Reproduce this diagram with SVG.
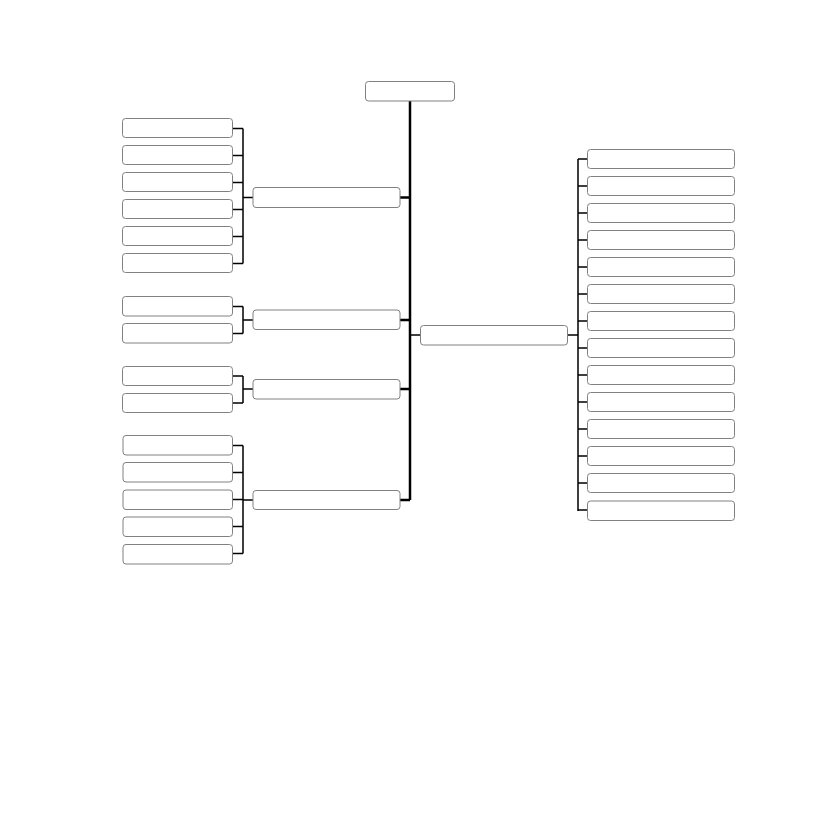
<svg xmlns="http://www.w3.org/2000/svg" width="822" height="822" viewBox="0 0 822 822">
<style>
.n{fill:#fff;stroke:#808080;stroke-width:1}
.c{fill:none;stroke:#000;stroke-width:1.5}
.m{fill:none;stroke:#000;stroke-width:2.5}
</style>
<rect width="822" height="822" fill="#fff"/>
<g id="connectors">
<path class="m" d="M410 101V500M400 197.5H410M400 320H410M400 389H410M400 500H410"/>
<path class="c" d="M410 335H420M567 335H578M578 159V511"/>
<path class="c" d="M578 159H587M578 186H587M578 213H587M578 240H587M578 267H587M578 294H587M578 321H587M578 348H587M578 375H587M578 402H587M578 429H587M578 456H587M578 483H587M578 510H587"/>
<path class="c" d="M232 128.5H243M232 155.5H243M232 182.5H243M232 209.5H243M232 236.5H243M232 263.5H243M243 128.5V263.5M243 197.5H253"/>
<path class="c" d="M232 306.5H243M232 333.5H243M243 306.5V333.5M243 320H253"/>
<path class="c" d="M232 376H243M232 403H243M243 376V403M243 389H253"/>
<path class="c" d="M232 445.5H243M232 472.5H243M232 499.5H243M232 526.5H243M232 553.5H243M243 445.5V553.5M243 500H253"/>
</g>
<g id="root"><rect class="n" x="365.5" y="81.5" width="89" height="19.5" rx="3"/></g>
<g id="g1"><rect class="n" x="253" y="187.5" width="147" height="20" rx="3"/></g>
<g id="g2"><rect class="n" x="253" y="310" width="147" height="19.5" rx="3"/></g>
<g id="g3"><rect class="n" x="253" y="379.5" width="147" height="19.5" rx="3"/></g>
<g id="g4"><rect class="n" x="253" y="490.5" width="147" height="19" rx="3"/></g>
<g id="r"><rect class="n" x="420.5" y="325.5" width="147" height="19.5" rx="3"/></g>
<g id="g1c1"><rect class="n" x="122.5" y="118.5" width="110" height="19" rx="3"/></g>
<g id="g1c2"><rect class="n" x="122.5" y="145.5" width="110" height="19" rx="3"/></g>
<g id="g1c3"><rect class="n" x="122.5" y="172.5" width="110" height="19" rx="3"/></g>
<g id="g1c4"><rect class="n" x="122.5" y="199.5" width="110" height="19" rx="3"/></g>
<g id="g1c5"><rect class="n" x="122.5" y="226.5" width="110" height="19" rx="3"/></g>
<g id="g1c6"><rect class="n" x="122.5" y="253.5" width="110" height="19" rx="3"/></g>
<g id="g2c1"><rect class="n" x="122.5" y="296.5" width="110" height="19.5" rx="3"/></g>
<g id="g2c2"><rect class="n" x="122.5" y="323.5" width="110" height="19.5" rx="3"/></g>
<g id="g3c1"><rect class="n" x="122.5" y="366.5" width="110" height="19" rx="3"/></g>
<g id="g3c2"><rect class="n" x="122.5" y="393.5" width="110" height="19" rx="3"/></g>
<g id="g4c1"><rect class="n" x="123" y="435.5" width="109.5" height="19.5" rx="3"/></g>
<g id="g4c2"><rect class="n" x="123" y="462.5" width="109.5" height="19.5" rx="3"/></g>
<g id="g4c3"><rect class="n" x="123" y="490" width="109.5" height="19.5" rx="3"/></g>
<g id="g4c4"><rect class="n" x="123" y="517" width="109.5" height="19.5" rx="3"/></g>
<g id="g4c5"><rect class="n" x="123" y="544.5" width="109.5" height="19.5" rx="3"/></g>
<g id="rc1"><rect class="n" x="587.5" y="149.5" width="147" height="19" rx="3"/></g>
<g id="rc2"><rect class="n" x="587.5" y="176.5" width="147" height="19" rx="3"/></g>
<g id="rc3"><rect class="n" x="587.5" y="203.5" width="147" height="19" rx="3"/></g>
<g id="rc4"><rect class="n" x="587.5" y="230.5" width="147" height="19" rx="3"/></g>
<g id="rc5"><rect class="n" x="587.5" y="257.5" width="147" height="19" rx="3"/></g>
<g id="rc6"><rect class="n" x="587.5" y="284.5" width="147" height="19" rx="3"/></g>
<g id="rc7"><rect class="n" x="587.5" y="311.5" width="147" height="19" rx="3"/></g>
<g id="rc8"><rect class="n" x="587.5" y="338.5" width="147" height="19" rx="3"/></g>
<g id="rc9"><rect class="n" x="587.5" y="365.5" width="147" height="19" rx="3"/></g>
<g id="rc10"><rect class="n" x="587.5" y="392.5" width="147" height="19" rx="3"/></g>
<g id="rc11"><rect class="n" x="587.5" y="419.5" width="147" height="19" rx="3"/></g>
<g id="rc12"><rect class="n" x="587.5" y="446.5" width="147" height="19" rx="3"/></g>
<g id="rc13"><rect class="n" x="587.5" y="473.5" width="147" height="19" rx="3"/></g>
<g id="rc14"><rect class="n" x="587.5" y="501" width="147" height="19.5" rx="3"/></g>
</svg>
